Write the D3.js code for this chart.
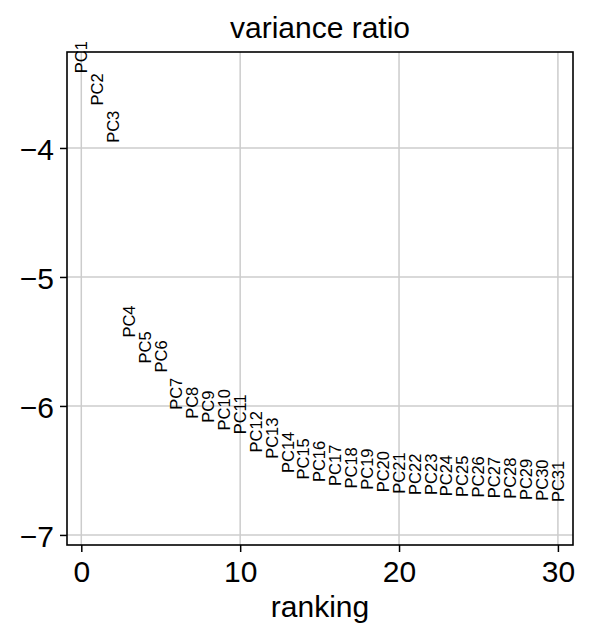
<!DOCTYPE html>
<html>
<head>
<meta charset="utf-8">
<script src="https://cdn.jsdelivr.net/npm/d3@7"></script>
<style>
  body { margin: 0; background: #fff; }
  text { font-family: "Liberation Sans", Arial, sans-serif; fill: #000; }
</style>
</head>
<body>
<div id="chart"></div>
<script>
// PCA variance ratio (log), one label per component
const components = d3.range(1, 32).map(i => 'PC' + i);
const ranks = d3.range(0, 31);
const values = [
  -3.42, -3.67, -3.96, -5.47, -5.67, -5.74, -6.03, -6.10, -6.13, -6.19,
  -6.22, -6.36, -6.41, -6.52, -6.57, -6.59, -6.62, -6.64, -6.65, -6.67,
  -6.68, -6.69, -6.69, -6.70, -6.705, -6.71, -6.715, -6.72, -6.73, -6.735,
  -6.745
];
const xTicks = [0, 10, 20, 30];
const yTicks = [-4, -5, -6, -7];

const width = 591, height = 643;
const margin = {top: 52, right: 18, bottom: 98, left: 67};

const svg = d3.select('#chart').append('svg')
  .attr('width', width)
  .attr('height', height);

const x = d3.scaleLinear()
  .domain([-0.9, 30.95])
  .range([margin.left, width - margin.right]);
const y = d3.scaleLinear()
  .domain([-7.078, -3.256])
  .range([height - margin.bottom, margin.top]);

// grid
svg.append('g').attr('class', 'grid')
  .selectAll('line.gx').data(xTicks).enter().append('line')
  .attr('x1', d => x(d)).attr('x2', d => x(d))
  .attr('y1', margin.top).attr('y2', height - margin.bottom)
  .attr('stroke', '#cccccc').attr('stroke-width', 1.5);
svg.select('.grid')
  .selectAll('line.gy').data(yTicks).enter().append('line')
  .attr('x1', margin.left).attr('x2', width - margin.right)
  .attr('y1', d => y(d)).attr('y2', d => y(d))
  .attr('stroke', '#cccccc').attr('stroke-width', 1.5);

// axes
let xAxis = svg.append('g')
  .attr('transform', `translate(0,${height - margin.bottom})`)
  .call(d3.axisBottom(x).tickValues(xTicks).tickSize(7).tickPadding(6).tickFormat(d3.format('d')));
let yAxis = svg.append('g')
  .attr('transform', `translate(${margin.left},0)`)
  .call(d3.axisLeft(y).tickValues(yTicks).tickSize(7).tickPadding(6)
    .tickFormat(d => d < 0 ? '\u2212' + Math.abs(d) : d));
[xAxis, yAxis].forEach(a => {
  a.select('.domain').remove();
  a.selectAll('.tick line').attr('stroke', '#000').attr('stroke-width', 1.5);
  a.selectAll('.tick text').attr('font-size', 30).style('font-family', '"Liberation Sans", Arial, sans-serif');
});
yAxis.selectAll('.tick text').attr('dy', '0.38em');
xAxis.selectAll('.tick text').attr('dy', '0.8em');

// frame
svg.append('rect')
  .attr('x', margin.left).attr('y', margin.top)
  .attr('width', width - margin.right - margin.left)
  .attr('height', height - margin.bottom - margin.top)
  .attr('fill', 'none').attr('stroke', '#000').attr('stroke-width', 1.6);

// labels
svg.append('g').selectAll('text').data(ranks).enter().append('text')
  .attr('transform', d => `translate(${x(d)},${y(values[d])}) rotate(-90)`)
  .attr('dy', '0.35em')
  .attr('text-anchor', 'start')
  .attr('font-size', 16.5)
  .text(d => components[d]);

// titles
svg.append('text')
  .attr('x', (margin.left + width - margin.right) / 2).attr('y', 38)
  .attr('text-anchor', 'middle').attr('font-size', 30)
  .text('variance ratio');
svg.append('text')
  .attr('x', (margin.left + width - margin.right) / 2).attr('y', 617)
  .attr('text-anchor', 'middle').attr('font-size', 30)
  .text('ranking');
</script>
</body>
</html>
